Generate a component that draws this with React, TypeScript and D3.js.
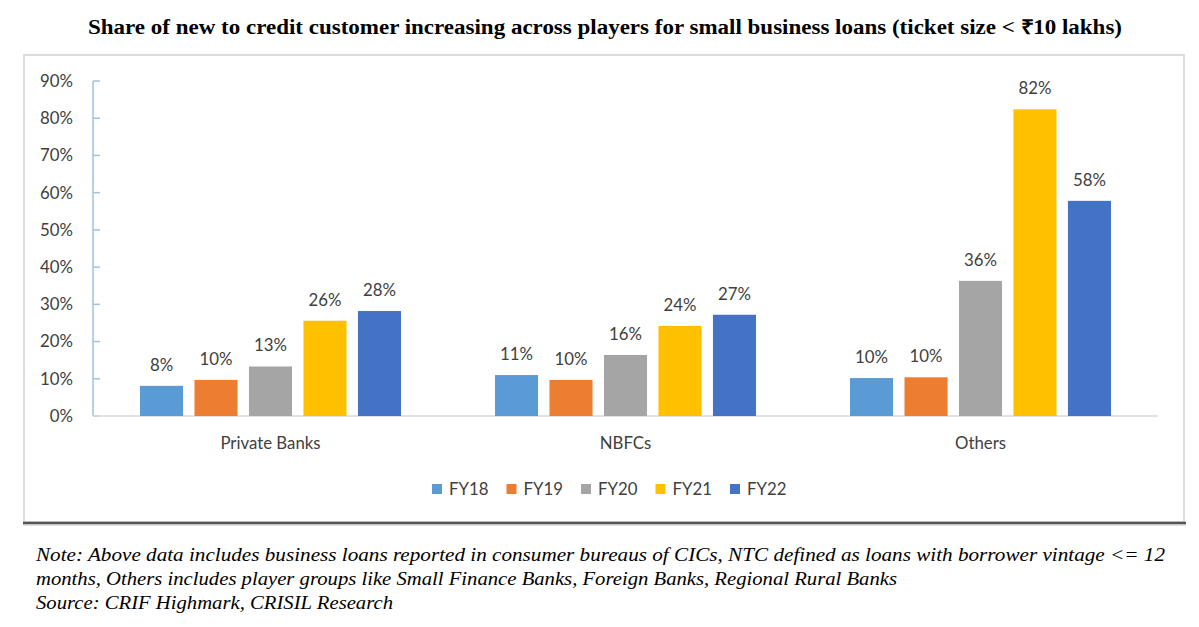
import React from "react";
import * as d3 from "d3";

const categories = ["Private Banks", "NBFCs", "Others"];
const seriesNames = ["FY18", "FY19", "FY20", "FY21", "FY22"];
const seriesColors = ["#5B9BD5", "#ED7D31", "#A5A5A5", "#FFC000", "#4472C4"];
const fy18 = [0.081, 0.11, 0.102];
const fy19 = [0.097, 0.097, 0.104];
const fy20 = [0.133, 0.164, 0.363];
const fy21 = [0.256, 0.242, 0.824];
const fy22 = [0.282, 0.272, 0.578];
const seriesValues = [fy18, fy19, fy20, fy21, fy22];
const yTicks = [0, 0.1, 0.2, 0.3, 0.4, 0.5, 0.6, 0.7, 0.8, 0.9];

const title =
  "Share of new to credit customer increasing across players for small business loans (ticket size < \u20B910 lakhs)";
const noteLines = [
  "Note: Above data includes business loans reported in consumer bureaus of CICs, NTC defined as loans with borrower vintage <= 12",
  "months, Others includes player groups like Small Finance Banks, Foreign Banks, Regional Rural Banks",
  "Source: CRIF Highmark, CRISIL Research",
];
const noteWidths = [1129, 861, 357];

export default function App() {
  const W = 1199;
  const H = 627;
  const plotLeft = 93;
  const plotRight = 1158;
  const y = d3.scaleLinear().domain([0, 0.9]).range([416, 81]);
  const x0 = d3.scaleBand<string>().domain(categories).range([plotLeft, plotRight]);
  const groupW = 261;
  const x1 = d3
    .scaleBand<string>()
    .domain(seriesNames)
    .range([0, groupW])
    .paddingInner(0.21)
    .paddingOuter(0);
  const fmt = d3.format(".0%");
  const sans = "Lato, 'Open Sans', sans-serif";
  const serif = "'Liberation Serif', 'Times New Roman', serif";
  const textColor = "#404040";
  const legendX0 = 432;
  const legendStep = 74.5;
  const fs = 16.8;

  return (
    <svg
      width={W}
      height={H}
      style={{ position: "absolute", left: 0, top: 0, background: "#fff" }}
    >
      <text
        x={88}
        y={34}
        textLength={1034}
        lengthAdjust="spacingAndGlyphs"
        fontFamily={serif}
        fontWeight="bold"
        fontSize={20}
        fill="#000"
      >
        {title}
      </text>
      {/* frame */}
      <rect x={24} y={55} width={1160} height={467} fill="none" stroke="#dcdcdc" strokeWidth={2} />
      <line x1={23} x2={1186} y1={523} y2={523} stroke="#555" strokeWidth={2.5} />
      <line x1={23} x2={1186} y1={525} y2={525} stroke="#bbb" strokeWidth={1} />

      {/* y axis */}
      <line x1={plotLeft} x2={plotLeft} y1={y(0.9)} y2={y(0)} stroke="#9DC3E6" strokeWidth={1.5} />
      {yTicks.map((t) => (
        <g key={t}>
          <line x1={plotLeft} x2={plotLeft + 7} y1={y(t)} y2={y(t)} stroke="#9DC3E6" strokeWidth={1.5} />
          <text
            x={73}
            y={y(t)}
            dy="0.35em"
            textAnchor="end"
            fontFamily={sans}
            fontSize={fs}
            fill={textColor}
          >
            {fmt(t)}
          </text>
        </g>
      ))}
      {/* baseline */}
      <line x1={plotLeft} x2={plotRight} y1={y(0)} y2={y(0)} stroke="#D9D9D9" strokeWidth={1.5} />

      {/* bars */}
      {categories.map((c, ci) => {
        const gx = (x0(c) as number) + (x0.bandwidth() - groupW) / 2;
        return (
          <g key={c}>
            {seriesNames.map((s, si) => {
              const v = seriesValues[si][ci];
              const bx = gx + (x1(s) as number);
              return (
                <g key={s}>
                  <rect
                    x={bx}
                    y={y(v)}
                    width={x1.bandwidth()}
                    height={y(0) - y(v)}
                    fill={seriesColors[si]}
                  />
                  <text
                    x={bx + x1.bandwidth() / 2}
                    y={y(v) - 15}
                    textAnchor="middle"
                    fontFamily={sans}
                    fontSize={fs}
                    fill={textColor}
                  >
                    {fmt(v)}
                  </text>
                </g>
              );
            })}
            <text
              x={(x0(c) as number) + x0.bandwidth() / 2}
              y={449}
              textAnchor="middle"
              fontFamily={sans}
              fontSize={fs}
              fill={textColor}
            >
              {c}
            </text>
          </g>
        );
      })}

      {/* legend */}
      {seriesNames.map((s, i) => (
        <g key={s} transform={`translate(${legendX0 + i * legendStep},0)`}>
          <rect x={0} y={484} width={10} height={10} fill={seriesColors[i]} />
          <text x={17} y={489} dy="0.35em" fontFamily={sans} fontSize={fs} fill={textColor}>
            {s}
          </text>
        </g>
      ))}

      {/* notes */}
      {noteLines.map((l, i) => (
        <text
          key={i}
          x={36}
          y={561 + i * 24}
          textLength={noteWidths[i]}
          lengthAdjust="spacingAndGlyphs"
          fontFamily={serif}
          fontStyle="italic"
          fontSize={19}
          fill="#000"
        >
          {l}
        </text>
      ))}
    </svg>
  );
}
